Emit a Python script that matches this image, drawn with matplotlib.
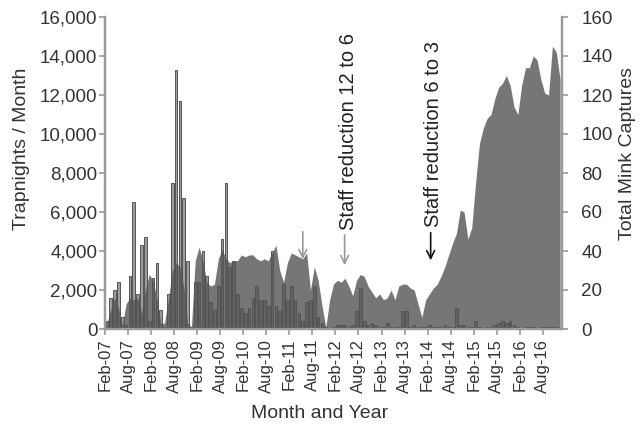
import matplotlib
matplotlib.use("Agg")
import matplotlib.pyplot as plt
from matplotlib.ticker import FuncFormatter
import numpy as np

plt.rcParams['font.family'] = ['Liberation Sans', 'DejaVu Sans']

# Monthly trapnights (thousands) Feb-07 .. Dec-16
trapnights_k = [
    0.3, 1.0, 1.6, 1.1, 0.2, 1.3, 1.6, 1.5, 1.6, 0.8,
    2.0, 2.8, 2.5, 1.6, 0.3, 0.3, 1.5, 3.0, 3.4, 3.2,
    2.2, 0.3, 0.1, 3.5, 4.2, 3.5, 2.4, 2.2, 2.3, 3.6,
    4.1, 3.6, 3.4, 3.5, 3.5, 3.8, 3.7, 3.8, 3.8, 3.6,
    3.5, 3.6, 3.5, 3.9, 4.3, 3.0, 2.4, 3.4, 3.9, 3.8,
    3.7, 3.6, 3.9, 2.0, 3.2, 2.5, 1.2, 0.1, 1.5, 2.3,
    2.5, 2.4, 2.6, 2.2, 1.7, 2.5, 2.8, 2.7, 2.2, 1.9,
    1.6, 1.8, 1.5, 1.6, 2.0, 1.5, 2.2, 2.3, 2.3, 2.1,
    2.0, 1.3, 0.6, 1.5, 1.8, 2.1, 2.3, 2.7, 3.2, 3.8,
    4.4, 4.9, 6.1, 6.0, 4.6, 5.2, 7.5, 9.5, 10.3, 10.8,
    11.0, 11.8, 12.4, 12.6, 13.0, 12.5, 11.4, 11.0, 12.5, 13.4,
    13.4, 14.0, 13.8, 12.8, 12.1, 12.0, 14.5, 14.2, 12.8,
]
trapnights = [v * 1000 for v in trapnights_k]

# Monthly total mink captures
captures = [
    4, 16, 20, 24, 6, 2, 27, 65, 18, 43,
    47, 4, 26, 34, 10, 1, 18, 75, 133, 117,
    67, 35, 1, 24, 24, 40, 27, 14, 10, 22,
    46, 75, 32, 35, 18, 11, 8, 11, 16, 22,
    15, 15, 12, 40, 12, 9, 23, 15, 22, 15,
    8, 4, 14, 15, 22, 6, 3, 1, 0, 1,
    2, 2, 2, 1, 2, 9, 21, 4, 2, 3,
    2, 1, 1, 3, 1, 1, 1, 9, 9, 1,
    2, 1, 1, 1, 2, 1, 1, 1, 2, 1,
    1, 11, 2, 2, 1, 1, 4, 1, 0, 1,
    1, 2, 3, 4, 3, 4, 2, 1, 0, 1,
    1, 1, 0, 1, 1, 1, 1, 1, 0,
]

tick_labels = [
    "Feb-07", "Aug-07", "Feb-08", "Aug-08", "Feb-09", "Aug-09", "Feb-10",
    "Aug-10", "Feb-11", "Aug-11", "Feb-12", "Aug-12", "Feb-13", "Aug-13",
    "Feb-14", "Aug-14", "Feb-15", "Aug-15", "Feb-16", "Aug-16",
]

n = len(trapnights)
x = np.arange(n) + 0.5

W, H = 640, 426
fig = plt.figure(figsize=(W/100, H/100), dpi=100)
ax = fig.add_axes([105/W, 1-329/H, (562-105)/W, (329-17)/H])
ax2 = ax.twinx()

# bars (captures) on right axis, behind the area
ax2.bar(x, captures, width=0.7, color='#9c9c9c', edgecolor='#262626', linewidth=0.5)
ax2.set_ylim(0, 160)

# area (trapnights) on left axis, drawn on top
ax.set_zorder(ax2.get_zorder() + 1)
ax.patch.set_visible(False)
ax.fill_between(x, 0, trapnights, color='#545456', alpha=0.8, linewidth=0)
ax.set_ylim(0, 16000)
ax.set_xlim(0, n)

spine_col = '#9a9a9a'
txt_col = '#333333'
for a in (ax, ax2):
    for s in a.spines.values():
        s.set_color(spine_col)
        s.set_linewidth(1.6)
    a.spines['top'].set_visible(False)
    a.tick_params(colors=spine_col, labelcolor=txt_col, length=4, width=1.2)

ax.set_yticks(np.arange(0, 16001, 2000))
ax.yaxis.set_major_formatter(FuncFormatter(lambda v, p: f"{v:,.0f}"))
ax.tick_params(axis='y', labelsize=13.5, pad=1.5)
ax2.set_yticks(np.arange(0, 161, 20))
ax2.tick_params(axis='y', labelsize=13.5, pad=10)

ax.set_xticks(np.arange(0, len(tick_labels) * 6, 6))
ax.set_xticklabels(tick_labels, rotation=90, fontsize=12)
ax.tick_params(axis='x', pad=3)

fig.text(22/W, 1-149/H, "Trapnights / Month", rotation=90, ha='center', va='center',
         fontsize=14, color=txt_col)
fig.text(628/W, 1-153/H, "Total Mink Captures", rotation=90, ha='center', va='center',
         fontsize=14, color=txt_col)
fig.text(320/W, 1-413/H, "Month and Year", ha='center', va='center',
         fontsize=14, color=txt_col)

# annotations
ax.annotate("", xy=(51.5, 3440), xytext=(51.5, 5130),
            arrowprops=dict(arrowstyle='->', color='#999999', lw=1.2, mutation_scale=14))
ax.annotate("", xy=(62.4, 3130), xytext=(62.4, 4970),
            arrowprops=dict(arrowstyle='->', color='#999999', lw=1.2, mutation_scale=14))
ax.text(63.3, 5080, "Staff reduction 12 to 6", rotation=90, ha='center', va='bottom',
        fontsize=14.5, color='#222222')
ax.annotate("", xy=(84.8, 3380), xytext=(84.8, 5080),
            arrowprops=dict(arrowstyle='->', color='#111111', lw=1.2, mutation_scale=14))
ax.text(85.6, 5230, "Staff reduction 6 to 3", rotation=90, ha='center', va='bottom',
        fontsize=14.5, color='#222222')

fig.savefig("out.png", dpi=100)
